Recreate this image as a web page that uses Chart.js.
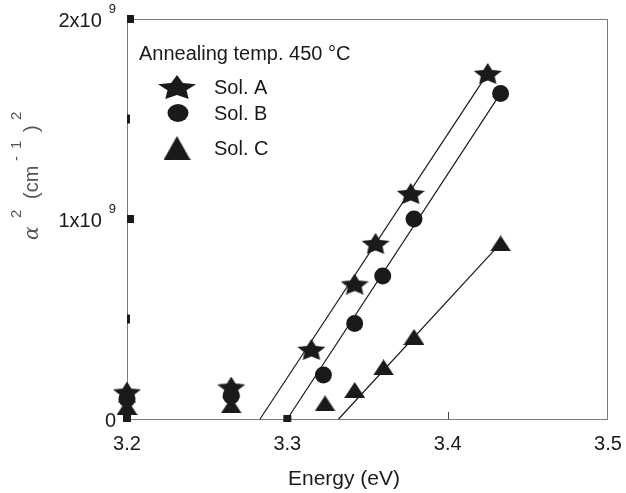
<!DOCTYPE html>
<html>
<head>
<meta charset="utf-8">
<title>Absorption edge</title>
<script src="https://cdn.jsdelivr.net/npm/chart.js@4.4.1/dist/chart.umd.min.js"></script>
<style>
  html, body { margin: 0; padding: 0; background: #fff; }
  #wrap { width: 626px; height: 493px; }
</style>
</head>
<body>
<div id="wrap"><canvas id="absChart" width="626" height="493"></canvas></div>
<script>
// ── data: photon energy (eV) vs alpha^2 (cm^-2) ──
var solAEnergy = [3.200, 3.265, 3.315, 3.342, 3.355, 3.377, 3.425];
var solAAlpha2 = [0.135e9, 0.160e9, 0.348e9, 0.675e9, 0.878e9, 1.128e9, 1.728e9];
var solBEnergy = [3.200, 3.265, 3.3225, 3.342, 3.3595, 3.379, 3.433];
var solBAlpha2 = [0.100e9, 0.115e9, 0.220e9, 0.478e9, 0.715e9, 1.000e9, 1.628e9];
var solCEnergy = [3.200, 3.265, 3.3235, 3.342, 3.360, 3.379, 3.433];
var solCAlpha2 = [0.060e9, 0.068e9, 0.078e9, 0.145e9, 0.258e9, 0.410e9, 0.878e9];

// linear fits, extrapolated to alpha^2 = 0
var fitAEnergy = [3.283, 3.425];
var fitAAlpha2 = [0, 1.728e9];
var fitBEnergy = [3.300, 3.433];
var fitBAlpha2 = [0, 1.628e9];
var fitCEnergy = [3.332, 3.433];
var fitCAlpha2 = [0, 0.878e9];

var seriesNames = ['Sol. A', 'Sol. B', 'Sol. C'];
var legendTitle = 'Annealing temp. 450 \u00B0C';
var xTitle = 'Energy (eV)';

// axis ticks
var xTicks = [3.2, 3.3, 3.4, 3.5];
var yTickValues = [0, 1e9, 2e9];
var yTickMantissa = ['0', '1', '2'];
var yTickExponent = ['', '9', '9'];
var yMinorTicks = [0.5e9, 1.5e9];
var xSquareTicks = [3.2, 3.3];
var xLineTicks = [3.4];

var FONT = '"Liberation Sans", Arial, sans-serif';
var INK = '#1a1a1a';

function pts(xs, ys) {
    return xs.map(function(x, i) { return { x: x, y: ys[i] }; });
}

// filled five-point star, a bit flattened
function starImage(w, h) {
    var c = document.createElement('canvas');
    c.width = w; c.height = h;
    var g = c.getContext('2d');
    g.fillStyle = INK;
    g.beginPath();
    for (var i = 0; i < 10; i++) {
        var r = i % 2 ? 0.5 : 1;
        var a = -Math.PI / 2 + i * Math.PI / 5;
        var px = (Math.cos(a) * r / 0.951 + 1) * w / 2;
        var py = (Math.sin(a) * r + 1) / 1.809 * h;
        if (i === 0) g.moveTo(px, py); else g.lineTo(px, py);
    }
    g.closePath();
    g.fill();
    return c;
}

function triangleImage(w, h) {
    var c = document.createElement('canvas');
    c.width = w; c.height = h;
    var g = c.getContext('2d');
    g.fillStyle = INK;
    g.beginPath();
    g.moveTo(w / 2, 0);
    g.lineTo(w, h);
    g.lineTo(0, h);
    g.closePath();
    g.fill();
    return c;
}

var starPt = starImage(28, 21);
var triPt = triangleImage(21, 16);
var starLeg = starImage(38, 24);
var triLeg = triangleImage(27, 24);

function fitLine(xs, ys) {
    return {
        type: 'line', data: pts(xs, ys), showLine: true, order: 2,
        borderColor: INK, borderWidth: 1.2, pointRadius: 0, fill: false, clip: false
    };
}

function markers(label, xs, ys, style, radius) {
    return {
        type: 'scatter', label: label, data: pts(xs, ys), order: 1,
        pointStyle: style, pointRadius: radius, pointHoverRadius: radius,
        backgroundColor: INK, borderColor: INK, borderWidth: 0, clip: false
    };
}

// ── frame, inward ticks, y labels, axis titles and legend ──
var decorations = {
    id: 'decorations',
    beforeDatasetsDraw: function(chart) {
        var ctx = chart.ctx, a = chart.chartArea;
        var xs = chart.scales.x, ys = chart.scales.y;
        ctx.save();
        ctx.strokeStyle = '#7a7a7a';
        ctx.lineWidth = 1;
        ctx.strokeRect(a.left + 0.5, a.top + 0.5, a.right - a.left - 1, a.bottom - a.top);
        ctx.fillStyle = INK;
        xSquareTicks.forEach(function(v) {
            var px = xs.getPixelForValue(v);
            ctx.fillRect(px - 4, a.bottom - 4, 8, 7);
        });
        ctx.strokeStyle = '#444';
        xLineTicks.forEach(function(v) {
            var px = Math.round(xs.getPixelForValue(v)) + 0.5;
            ctx.beginPath(); ctx.moveTo(px, a.bottom); ctx.lineTo(px, a.bottom - 7); ctx.stroke();
        });
        yTickValues.forEach(function(v) {
            if (v === 0) return;
            var py = ys.getPixelForValue(v);
            ctx.fillRect(a.left, py - 4, 7, 8);
        });
        yMinorTicks.forEach(function(v) {
            var py = ys.getPixelForValue(v);
            ctx.fillRect(a.left, py - 4.5, 3, 9);
        });
        ctx.restore();
    },
    afterDraw: function(chart) {
        var ctx = chart.ctx, ys = chart.scales.y;
        ctx.save();
        ctx.fillStyle = INK;
        ctx.textBaseline = 'alphabetic';

        // y tick labels, e.g. 2x10^9
        var right = 116;
        yTickValues.forEach(function(v, i) {
            var py = ys.getPixelForValue(v);
            ctx.textAlign = 'right';
            var edge = right;
            if (yTickExponent[i]) {
                ctx.font = '13px ' + FONT;
                ctx.fillText(yTickExponent[i], right, py - 6);
                edge = right - ctx.measureText(yTickExponent[i]).width - 7;
                ctx.font = '20px ' + FONT;
                ctx.fillText(yTickMantissa[i] + 'x10', edge, py + 8);
            } else {
                ctx.font = '20px ' + FONT;
                ctx.fillText(yTickMantissa[i], edge, py + 8);
            }
        });

        // x title, sits a little left of the axis centre
        ctx.textAlign = 'center';
        ctx.font = '21px ' + FONT;
        ctx.fillText(xTitle, 344, 485);

        // y title: alpha^2 (cm^-1)^2
        ctx.save();
        ctx.translate(38, 241);
        ctx.rotate(-Math.PI / 2);
        ctx.textAlign = 'left';
        ctx.fillStyle = '#555';
        var parts = [
            { t: '\u03B1', f: 'italic 20px "DejaVu Serif", serif', x: 1, y: 0 },
            { t: '2', f: '15px ' + FONT, x: 23, y: -17 },
            { t: '(cm', f: '20px ' + FONT, x: 42, y: 0 },
            { t: '-', f: '15px ' + FONT, x: 80, y: -17 },
            { t: '1', f: '15px ' + FONT, x: 92, y: -17 },
            { t: ')', f: '20px ' + FONT, x: 109, y: 0 },
            { t: '2', f: '15px ' + FONT, x: 121, y: -17 }
        ];
        parts.forEach(function(p) {
            ctx.font = p.f;
            ctx.fillText(p.t, p.x, p.y);
        });
        ctx.restore();

        // legend
        ctx.textAlign = 'left';
        ctx.font = '20px ' + FONT;
        ctx.fillText(legendTitle, 139, 60);
        var rows = [87, 113, 148];
        ctx.drawImage(starLeg, 177 - starLeg.width / 2, rows[0] - starLeg.height / 2);
        ctx.beginPath();
        ctx.ellipse(178, rows[1], 10.5, 9, 0, 0, Math.PI * 2);
        ctx.fill();
        ctx.drawImage(triLeg, 177 - triLeg.width / 2, rows[2] - triLeg.height / 2);
        seriesNames.forEach(function(name, i) {
            ctx.fillText(name, 214, rows[i] + 7);
        });
        ctx.restore();
    }
};

new Chart(document.getElementById('absChart').getContext('2d'), {
    type: 'scatter',
    data: {
        datasets: [
            markers(seriesNames[0], solAEnergy, solAAlpha2, starPt, 10),
            markers(seriesNames[1], solBEnergy, solBAlpha2, 'circle', 8.5),
            markers(seriesNames[2], solCEnergy, solCAlpha2, triPt, 10),
            fitLine(fitAEnergy, fitAAlpha2),
            fitLine(fitBEnergy, fitBAlpha2),
            fitLine(fitCEnergy, fitCAlpha2)
        ]
    },
    options: {
        responsive: false,
        animation: false,
        layout: { padding: { top: 19, right: 18, left: 0, bottom: 0 } },
        plugins: { legend: { display: false }, tooltip: { enabled: false } },
        scales: {
            x: {
                type: 'linear', min: 3.2, max: 3.5,
                afterBuildTicks: function(s) { s.ticks = xTicks.map(function(v) { return { value: v }; }); },
                afterFit: function(s) { s.height = 74; s.paddingLeft = 0; s.paddingRight = 0; },
                grid: { display: false, drawTicks: false },
                border: { display: false },
                ticks: { color: INK, font: { family: FONT, size: 20 }, padding: 13,
                    callback: function(v) { return Number(v).toFixed(1); } },
                title: { display: false }
            },
            y: {
                type: 'linear', min: 0, max: 2e9,
                afterFit: function(s) { s.width = 127; s.paddingTop = 0; s.paddingBottom = 0; },
                grid: { display: false, drawTicks: false },
                border: { display: false },
                ticks: { display: false }
            }
        }
    },
    plugins: [decorations]
});
</script>
</body>
</html>
